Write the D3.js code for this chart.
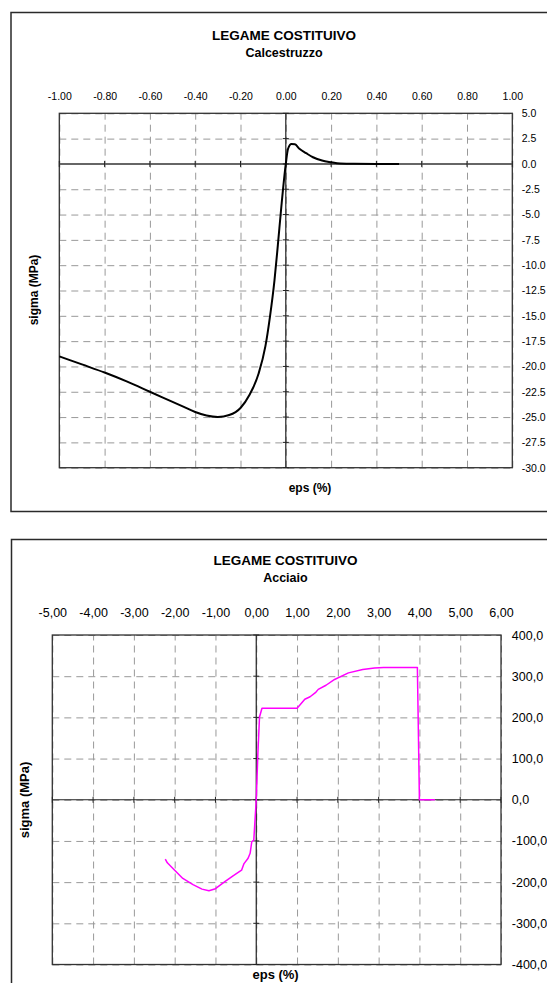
<!DOCTYPE html>
<html lang="it">
<head>
<meta charset="utf-8">
<script src="https://cdn.jsdelivr.net/npm/d3@7/dist/d3.min.js"></script>
<title>Legame costitutivo</title>
<style>
  body { margin: 0; background: #fff; }
  svg text { font-family: "Liberation Sans", Arial, sans-serif; fill: #000; }
</style>
</head>
<body>
<div id="chart"></div>
<script>
// --- calcestruzzo (eps %, sigma MPa)
const concreteEps   = [-1.00, -0.90, -0.80, -0.70, -0.60, -0.50, -0.45, -0.40, -0.35, -0.30, -0.25, -0.20, -0.16, -0.12, -0.09, -0.07, -0.05, -0.035, -0.02, 0.00, 0.01, 0.025, 0.04, 0.06, 0.09, 0.12, 0.16, 0.20, 0.24, 0.30, 0.40, 0.50];
const concreteSigma = [-19.0, -19.8, -20.6, -21.5, -22.5, -23.5, -24.0, -24.5, -24.85, -25.0, -24.8, -24.1, -22.8, -20.7, -18.0, -15.1, -11.5, -8.0, -4.3, 0.0, 1.5, 1.97, 1.94, 1.5, 1.06, 0.66, 0.33, 0.17, 0.05, 0.01, 0.0, 0.0];
const concreteXTicks = [-1.0, -0.8, -0.6, -0.4, -0.2, 0.0, 0.2, 0.4, 0.6, 0.8, 1.0];
const concreteYTicks = [5.0, 2.5, 0.0, -2.5, -5.0, -7.5, -10.0, -12.5, -15.0, -17.5, -20.0, -22.5, -25.0, -27.5, -30.0];

// --- acciaio
const steelEps   = [-2.23, -2.18, -2.00, -1.80, -1.55, -1.33, -1.16, -1.00, -0.77, -0.56, -0.36, -0.30, -0.20, -0.15, -0.11, -0.06, -0.04, 0.00, 0.04, 0.08, 0.14, 1.00, 1.07, 1.19, 1.32, 1.45, 1.52, 1.71, 1.92, 2.26, 2.61, 2.90, 3.12, 3.95, 4.00, 4.38];
const steelSigma = [-144, -153, -171, -191, -206, -217, -221, -216, -199, -184, -171, -155, -142, -130, -102, -98, -65, 0, 113, 201, 222, 222, 230, 244, 250, 260, 268, 278, 292, 308, 316, 320, 321, 321, 0, 0];
const steelXTicks = [-5, -4, -3, -2, -1, 0, 1, 2, 3, 4, 5, 6];
const steelYTicks = [400, 300, 200, 100, 0, -100, -200, -300, -400];

const dotLocale = d3.formatLocale({decimal: ".", thousands: ",", grouping: [3], currency: ["", ""], minus: "-"});
const commaLocale = d3.formatLocale({decimal: ",", thousands: ".", grouping: [3], currency: ["", ""], minus: "-"});

var svg = d3.select("#chart").append("svg")
    .attr("width", 547)
    .attr("height", 983);

function drawChart(c) {
    var g = svg.append("g");

    // outer chart frame
    g.append("rect")
        .attr("x", c.box.x).attr("y", c.box.y)
        .attr("width", c.box.w).attr("height", c.box.h)
        .attr("fill", "none").attr("stroke", "#2a2a2a").attr("stroke-width", 1.5);

    var x = d3.scaleLinear().domain(c.xDomain).range([c.plot.left, c.plot.right]);
    var y = d3.scaleLinear().domain(c.yDomain).range([c.plot.bottom, c.plot.top]);
    var h = c.plot.bottom - c.plot.top;
    var w = c.plot.right - c.plot.left;

    // dashed grid
    g.append("g")
        .attr("transform", "translate(0," + c.plot.bottom + ")")
        .call(d3.axisBottom(x).tickValues(c.xTicks).tickSize(-h).tickFormat(""))
        .call(function(a) {
            a.select(".domain").remove();
            a.selectAll("line").attr("stroke", "#999").attr("stroke-dasharray", "7,5");
        });
    g.append("g")
        .attr("transform", "translate(" + c.plot.left + ",0)")
        .call(d3.axisLeft(y).tickValues(c.yTicks).tickSize(-w).tickFormat(""))
        .call(function(a) {
            a.select(".domain").remove();
            a.selectAll("line").attr("stroke", "#999").attr("stroke-dasharray", "7,5");
        });

    // plot border
    g.append("rect")
        .attr("x", c.plot.left).attr("y", c.plot.top)
        .attr("width", w).attr("height", h)
        .attr("fill", "none").attr("stroke", "#333").attr("stroke-width", 1.3);

    // zero axes with small cross ticks
    g.append("line")
        .attr("x1", c.plot.left).attr("x2", c.plot.right)
        .attr("y1", y(0)).attr("y2", y(0))
        .attr("stroke", c.hZeroColor).attr("stroke-width", c.hZeroWidth);
    g.append("line")
        .attr("x1", x(0)).attr("x2", x(0))
        .attr("y1", c.plot.top).attr("y2", c.plot.bottom)
        .attr("stroke", "#222").attr("stroke-width", 1.2);
    g.append("g").selectAll("line").data(c.xTicks).join("line")
        .attr("x1", function(d) { return x(d); }).attr("x2", function(d) { return x(d); })
        .attr("y1", y(0) - 3).attr("y2", y(0) + 3)
        .attr("stroke", "#222");
    g.append("g").selectAll("line").data(c.yTicks).join("line")
        .attr("x1", x(0) - 3).attr("x2", x(0) + 3)
        .attr("y1", function(d) { return y(d); }).attr("y2", function(d) { return y(d); })
        .attr("stroke", "#222");

    // tick labels: x on top, y on the right
    g.append("g")
        .attr("transform", "translate(0," + c.xLabelY + ")")
        .call(d3.axisTop(x).tickValues(c.xTicks).tickSize(0).tickPadding(0).tickFormat(c.xFormat))
        .call(function(a) {
            a.select(".domain").remove();
            a.selectAll("text").attr("dy", "0.32em")
                .style("font-size", c.tickSize + "px").style("font-family", "Liberation Sans, Arial, sans-serif");
        });
    g.append("g")
        .attr("transform", "translate(" + c.yLabelX + ",0)")
        .call(d3.axisRight(y).tickValues(c.yTicks).tickSize(0).tickPadding(0).tickFormat(c.yFormat))
        .call(function(a) {
            a.select(".domain").remove();
            a.selectAll("text")
                .style("font-size", c.tickSize + "px").style("font-family", "Liberation Sans, Arial, sans-serif");
        });

    // curve
    var pts = c.xs.map(function(v, i) { return [v, c.ys[i]]; });
    g.append("path")
        .datum(pts)
        .attr("fill", "none")
        .attr("stroke", c.color)
        .attr("stroke-width", c.lineWidth)
        .attr("stroke-linejoin", "round")
        .attr("d", d3.line()
            .x(function(d) { return x(d[0]); })
            .y(function(d) { return y(d[1]); })
            .curve(c.curve));

    // titles
    g.append("text")
        .attr("x", c.titleX).attr("y", c.titleY1)
        .attr("text-anchor", "middle").attr("dy", "0.35em")
        .style("font-size", "13.5px").style("font-weight", "bold")
        .text("LEGAME COSTITUIVO");
    g.append("text")
        .attr("x", c.titleX).attr("y", c.titleY2)
        .attr("text-anchor", "middle").attr("dy", "0.35em")
        .style("font-size", "12.5px").style("font-weight", "bold")
        .text(c.subtitle);

    g.append("text")
        .attr("text-anchor", "middle")
        .attr("transform", "translate(" + c.sigmaX + "," + c.sigmaY + ") rotate(-90)")
        .attr("dy", "0.35em")
        .style("font-size", c.axisTitleSize + "px").style("font-weight", "bold")
        .text("sigma (MPa)");
    g.append("text")
        .attr("x", c.epsX).attr("y", c.epsY)
        .attr("text-anchor", "middle").attr("dy", "0.35em")
        .style("font-size", c.axisTitleSize + "px").style("font-weight", "bold")
        .text("eps (%)");
}

drawChart({
    box: {x: 11, y: 12.5, w: 570, h: 499},
    plot: {left: 59.3, right: 512.3, top: 113.3, bottom: 467.7},
    xDomain: [-1, 1], yDomain: [-30, 5],
    xTicks: concreteXTicks, yTicks: concreteYTicks,
    xFormat: dotLocale.format(".2f"), yFormat: dotLocale.format(".1f"),
    xs: concreteEps, ys: concreteSigma,
    color: "#000", lineWidth: 2, curve: d3.curveMonotoneX,
    hZeroColor: "#666", hZeroWidth: 2,
    tickSize: 10.5, axisTitleSize: 12,
    xLabelY: 97, yLabelX: 521.7,
    titleX: 284, titleY1: 35, titleY2: 53, subtitle: "Calcestruzzo",
    sigmaX: 33.8, sigmaY: 290, epsX: 310, epsY: 488
});

drawChart({
    box: {x: 11.5, y: 539.5, w: 570, h: 470},
    plot: {left: 52.3, right: 501, top: 635, bottom: 964.5},
    xDomain: [-5, 6], yDomain: [-400, 400],
    xTicks: steelXTicks, yTicks: steelYTicks,
    xFormat: commaLocale.format(".2f"), yFormat: commaLocale.format(".1f"),
    xs: steelEps, ys: steelSigma,
    color: "#ff00ff", lineWidth: 1.5, curve: d3.curveLinear,
    hZeroColor: "#222", hZeroWidth: 1.2,
    tickSize: 12.5, axisTitleSize: 13,
    xLabelY: 613, yLabelX: 511.8,
    titleX: 285.4, titleY1: 560, titleY2: 578, subtitle: "Acciaio",
    sigmaX: 24.4, sigmaY: 800, epsX: 275.6, epsY: 974
});
</script>
</body>
</html>
